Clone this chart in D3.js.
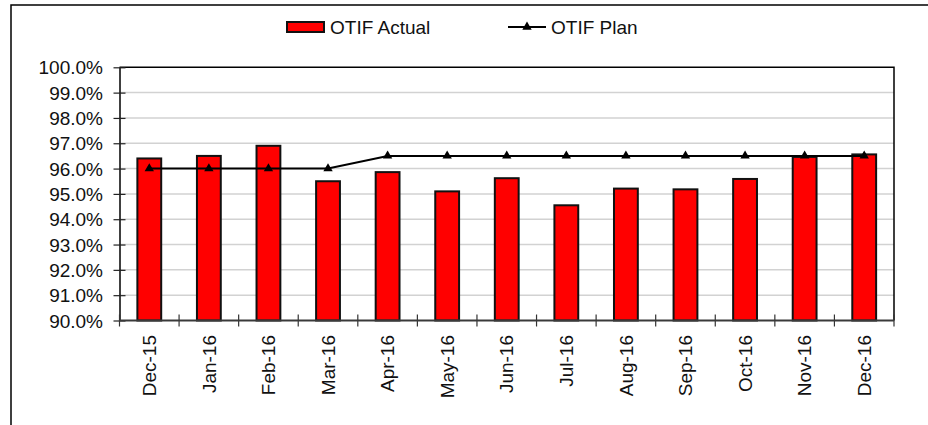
<!DOCTYPE html>
<html>
<head>
<meta charset="utf-8">
<script src="https://cdn.jsdelivr.net/npm/d3@7"></script>
<style>
  html, body { margin: 0; padding: 0; background: #fff; }
  svg { display: block; font-family: "Liberation Sans", Arial, sans-serif; }
</style>
</head>
<body>
<svg id="chart" width="928" height="425"></svg>
<script>
// Monthly OTIF (on time in full) performance against plan
const months = ["Dec-15", "Jan-16", "Feb-16", "Mar-16", "Apr-16", "May-16", "Jun-16",
                "Jul-16", "Aug-16", "Sep-16", "Oct-16", "Nov-16", "Dec-16"];
const otifActual = [0.964, 0.965, 0.969, 0.955, 0.9586, 0.951, 0.9562,
                    0.9455, 0.9521, 0.9518, 0.9559, 0.9646, 0.9656];
const otifPlan = [0.96, 0.96, 0.96, 0.96, 0.965, 0.965, 0.965,
                  0.965, 0.965, 0.965, 0.965, 0.965, 0.965];
const yTicks = [0.90, 0.91, 0.92, 0.93, 0.94, 0.95, 0.96, 0.97, 0.98, 0.99, 1.00];
const seriesNames = ["OTIF Actual", "OTIF Plan"];

const svg = d3.select("#chart");
const plot = { left: 119.5, right: 894, top: 67.3, bottom: 320.5 };
const fontSize = 19;

// chart frame
svg.append("rect")
  .attr("x", 11).attr("y", 5)
  .attr("width", 940).attr("height", 440)
  .attr("fill", "none").attr("stroke", "#000").attr("stroke-width", 1.5);

const x = d3.scaleBand()
  .domain(months)
  .range([plot.left, plot.right])
  .paddingInner(0.6)
  .paddingOuter(0.3);

const y = d3.scaleLinear()
  .domain([0.90, 1.00])
  .range([plot.bottom, plot.top]);

// horizontal gridlines
svg.append("g")
  .selectAll("line")
  .data(yTicks.filter(t => t > 0.90 && t < 1.00))
  .join("line")
  .attr("x1", plot.left).attr("x2", plot.right)
  .attr("y1", d => y(d)).attr("y2", d => y(d))
  .attr("stroke", "#d2d2d2").attr("stroke-width", 1.5);

// plot area outline (top and right)
svg.append("path")
  .attr("d", `M${plot.left},${plot.top}H${plot.right}V${plot.bottom}`)
  .attr("fill", "none").attr("stroke", "#000").attr("stroke-width", 1.5);

// bars
svg.append("g")
  .selectAll("rect")
  .data(months.map((m, i) => ({ m, v: otifActual[i] })))
  .join("rect")
  .attr("x", d => x(d.m))
  .attr("width", x.bandwidth())
  .attr("y", d => y(d.v))
  .attr("height", d => y(0.90) - y(d.v))
  .attr("fill", "#ff0000")
  .attr("stroke", "#111")
  .attr("stroke-width", 2);

// y axis with crossing ticks
const yAxis = svg.append("g")
  .attr("transform", `translate(${plot.left},0)`)
  .call(d3.axisLeft(y).tickValues(yTicks).tickFormat(d3.format(".1%"))
    .tickSizeInner(6).tickSizeOuter(0).tickPadding(10.5));
yAxis.select(".domain").attr("stroke", "#000").attr("stroke-width", 1.5);
yAxis.selectAll(".tick line").attr("x1", 6).attr("stroke", "#222").attr("stroke-width", 1.2);
yAxis.selectAll(".tick text")
  .attr("font-size", fontSize).attr("font-family", "Liberation Sans, Arial, sans-serif")
  .attr("fill", "#111").attr("dy", "0.35em");

// x axis: category labels rotated, ticks on category boundaries
const xAxis = svg.append("g")
  .attr("transform", `translate(0,${plot.bottom})`)
  .call(d3.axisBottom(x).tickSize(0).tickPadding(0));
xAxis.select(".domain").remove();
xAxis.selectAll(".tick text")
  .attr("transform", "rotate(-90)")
  .attr("x", -14.5).attr("y", 0).attr("dy", "0.35em")
  .attr("text-anchor", "end")
  .attr("font-size", fontSize).attr("font-family", "Liberation Sans, Arial, sans-serif")
  .attr("fill", "#111");

const boundaries = d3.range(months.length + 1).map(i => plot.left + i * x.step());
svg.append("g")
  .selectAll("line")
  .data(boundaries)
  .join("line")
  .attr("x1", d => d).attr("x2", d => d)
  .attr("y1", plot.bottom - 6).attr("y2", plot.bottom + 6)
  .attr("stroke", "#333").attr("stroke-width", 1.2);

svg.append("line")
  .attr("x1", plot.left).attr("x2", plot.right)
  .attr("y1", plot.bottom).attr("y2", plot.bottom)
  .attr("stroke", "#3a3a3a").attr("stroke-width", 2);

// plan line with triangle markers
const cx = m => x(m) + x.bandwidth() / 2;
const planPts = months.map((m, i) => [cx(m), y(otifPlan[i])]);
svg.append("path")
  .attr("d", d3.line()(planPts))
  .attr("fill", "none").attr("stroke", "#000").attr("stroke-width", 2);

const tri = d3.symbol(d3.symbolTriangle, 38);
svg.append("g")
  .selectAll("path")
  .data(planPts)
  .join("path")
  .attr("transform", d => `translate(${d[0]},${d[1]})`)
  .attr("d", tri)
  .attr("fill", "#000");

// legend
const legend = svg.append("g").attr("font-size", fontSize).attr("fill", "#111");
legend.append("rect")
  .attr("x", 287).attr("y", 22).attr("width", 37).attr("height", 10)
  .attr("fill", "#ff0000").attr("stroke", "#111").attr("stroke-width", 2);
legend.append("text").attr("x", 330).attr("y", 34).text(seriesNames[0]);
legend.append("line")
  .attr("x1", 508).attr("x2", 546).attr("y1", 27).attr("y2", 27)
  .attr("stroke", "#000").attr("stroke-width", 2);
legend.append("path")
  .attr("transform", "translate(527,27)")
  .attr("d", tri).attr("fill", "#000");
legend.append("text").attr("x", 551).attr("y", 34).text(seriesNames[1]);
</script>
</body>
</html>
